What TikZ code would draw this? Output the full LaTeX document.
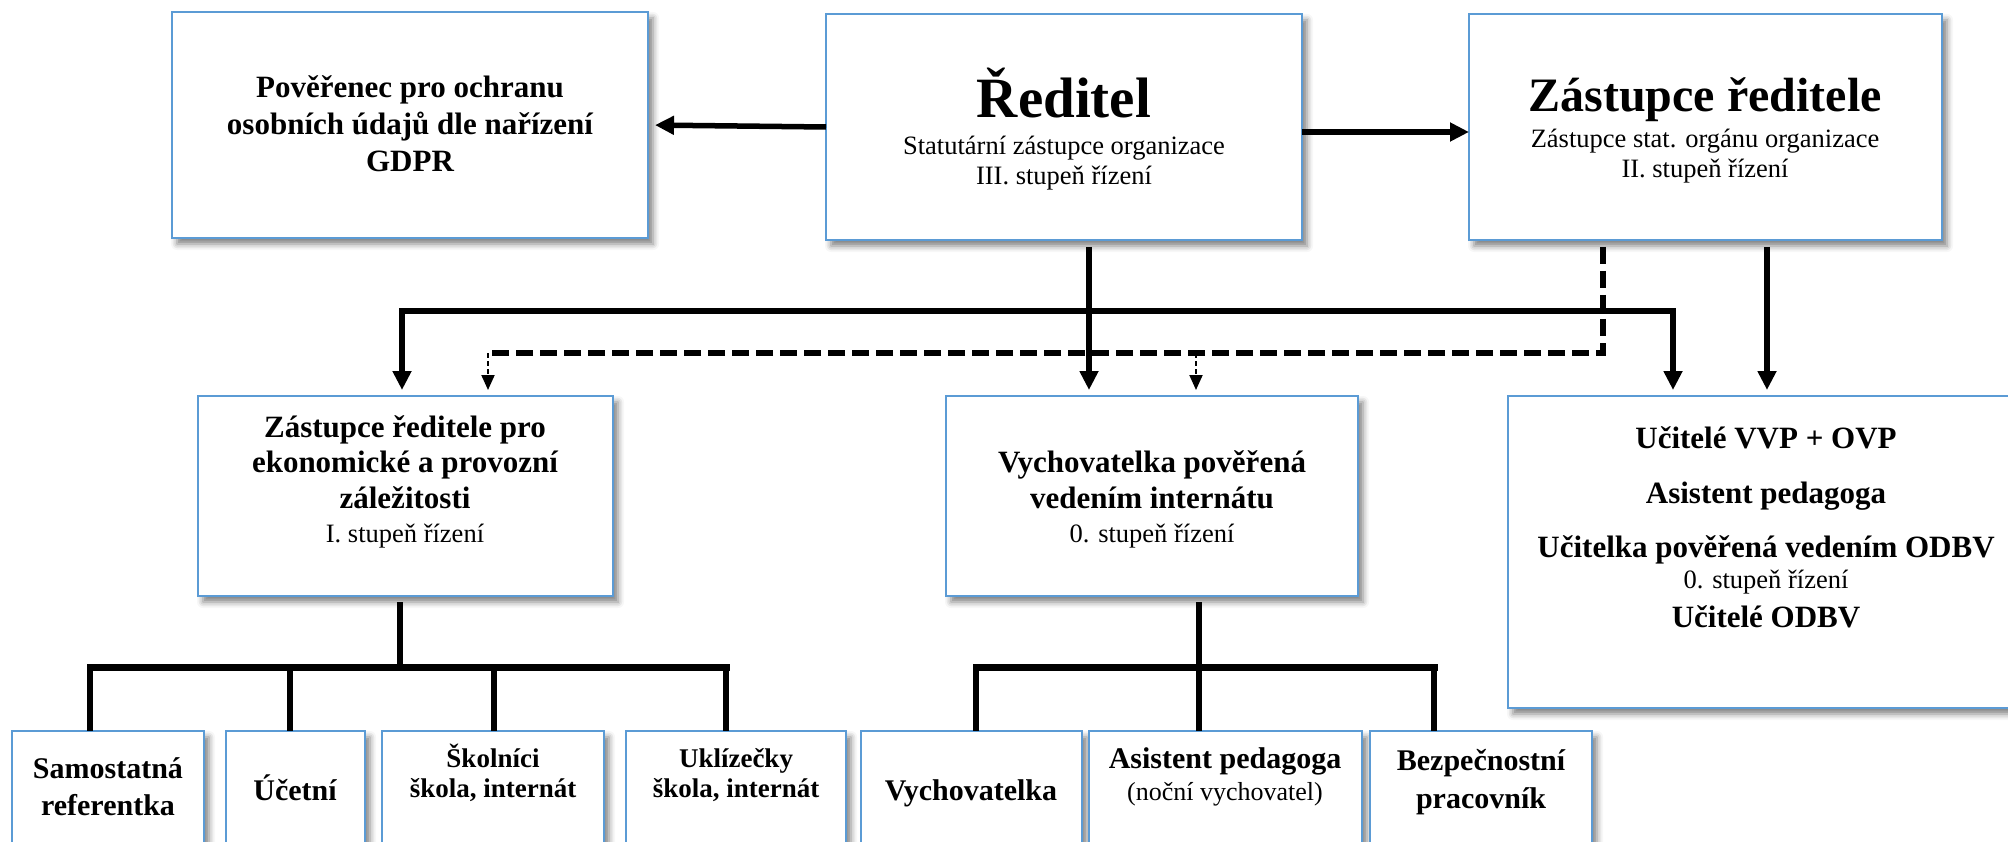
\documentclass[tikz,border=0pt]{standalone}
\usepackage{fontspec}
\setmainfont{Liberation Serif}[
  UprightFont={Liberation Serif},
  BoldFont={Liberation Serif Bold},
  ItalicFont={Liberation Serif Italic},
  BoldItalicFont={Liberation Serif Bold Italic}]
\usetikzlibrary{arrows.meta,shadows.blur}
\definecolor{bxblue}{HTML}{5B9BD5}
\newcommand\fHuge{\bfseries\fontsize{57}{64}\selectfont}
\newcommand\fBig{\bfseries\fontsize{48}{54}\selectfont}
\newcommand\fB{\bfseries\fontsize{31}{37}\selectfont}
\newcommand\fBb{\bfseries\fontsize{30}{36}\selectfont}
\newcommand\fBs{\bfseries\fontsize{27}{32}\selectfont}
\newcommand\fR{\fontsize{26.5}{31}\selectfont}
\newcommand\fRs{\fontsize{26}{31}\selectfont}
\tikzset{
  box/.style={draw=bxblue, line width=2.8pt, fill=white, inner sep=0pt, outer sep=0pt,
    anchor=north west,
    blur shadow={shadow xshift=5pt, shadow yshift=-6pt, shadow blur radius=6pt, shadow opacity=50}},
  tx/.style={anchor=base, inner sep=0pt},
  arr/.style={line width=5.5pt, -{Triangle[length=19pt,width=18pt]}},
  dsh/.style={line width=5.5pt, dash pattern=on 17pt off 7pt},
  thinarr/.style={line width=2pt, dash pattern=on 5pt off 3pt, -{Triangle[length=15pt,width=13pt]}},
  bus/.style={line width=7pt, line cap=rect},
  drop/.style={line width=5.5pt},
}
\begin{document}
\begin{tikzpicture}[x=1pt,y=-1pt]
\useasboundingbox (0,0) rectangle (2008,842);
% boxes
\node[box, minimum width=476pt, minimum height=226pt] (gdpr) at (172,12) {};
\node[box, minimum width=476pt, minimum height=226pt] (red) at (826,14) {};
\node[box, minimum width=473pt, minimum height=226pt] (zr) at (1469,14) {};
\node[box, minimum width=415pt, minimum height=200pt] (ek) at (198,396) {};
\node[box, minimum width=412pt, minimum height=200pt] (vy) at (946,396) {};
\node[box, minimum width=516pt, minimum height=312pt] (uc) at (1508,396) {};
\node[box, minimum width=192pt, minimum height=130pt] (b1) at (12,731) {};
\node[box, minimum width=139pt, minimum height=130pt] (b2) at (226,731) {};
\node[box, minimum width=222pt, minimum height=130pt] (b3) at (382,731) {};
\node[box, minimum width=220pt, minimum height=130pt] (b4) at (626,731) {};
\node[box, minimum width=221pt, minimum height=130pt] (b5) at (861,731) {};
\node[box, minimum width=273pt, minimum height=130pt] (b6) at (1089,731) {};
\node[box, minimum width=222pt, minimum height=130pt] (b7) at (1370,731) {};
% texts
\node[tx] (g1) at (410,98) {\fB Pověřenec pro ochranu};
\node[tx] (g2) at (410,135) {\fB osobních údajů dle nařízení};
\node[tx] (g3) at (410,172) {\fB GDPR};
\node[tx] (r1) at (1064,118) {\fHuge Ředitel};
\node[tx] (r2) at (1064,155) {\fR Statutární zástupce organizace};
\node[tx] (r3) at (1064,185) {\fR III. stupeň řízení};
\node[tx] (z1) at (1705,112) {\fBig Zástupce ředitele};
\node[tx] (z2) at (1705,148) {\fR Zástupce stat. orgánu organizace};
\node[tx] (z3) at (1705,178) {\fR II. stupeň řízení};
\node[tx] (e1) at (405,437) {\fB Zástupce ředitele pro};
\node[tx] (e2) at (405,472) {\fB ekonomické a provozní};
\node[tx] (e3) at (405,508) {\fB záležitosti};
\node[tx] (e4) at (405,542) {\fR I. stupeň řízení};
\node[tx] (v1) at (1152,472) {\fB Vychovatelka pověřená};
\node[tx] (v2) at (1152,508) {\fB vedením internátu};
\node[tx] (v3) at (1152,542) {\fR 0. stupeň řízení};
\node[tx] (u1) at (1766,448) {\fB Učitelé VVP + OVP};
\node[tx] (u2) at (1766,503) {\fB Asistent pedagoga};
\node[tx] (u3) at (1766,557) {\fB Učitelka pověřená vedením ODBV};
\node[tx] (u4) at (1766,588) {\fR 0. stupeň řízení};
\node[tx] (u5) at (1766,627) {\fB Učitelé ODBV};
\node[tx] (t1a) at (108,778) {\fBb Samostatná};
\node[tx] (t1b) at (108,815) {\fBb referentka};
\node[tx] (t2) at (295,800) {\fBb Účetní};
\node[tx] (t3a) at (493,767) {\fBs Školníci};
\node[tx] (t3b) at (493,797) {\fBs škola, internát};
\node[tx] (t4a) at (736,767) {\fBs Uklízečky};
\node[tx] (t4b) at (736,797) {\fBs škola, internát};
\node[tx] (t5) at (971,800) {\fBb Vychovatelka};
\node[tx] (t6a) at (1225,768) {\fBb Asistent pedagoga};
\node[tx] (t6b) at (1225,800) {\fRs (noční vychovatel)};
\node[tx] (t7a) at (1481,770) {\fBb Bezpečnostní};
\node[tx] (t7b) at (1481,808) {\fBb pracovník};
% helper coordinates
\coordinate (rd) at (1089,0);
\coordinate (zd) at (1767,0);
\coordinate (busL) at (402,311);
\coordinate (busR) at (1673,311);
\coordinate (dx) at (1603,0);
\coordinate (dc) at (1603,353);
\coordinate (dl) at (488,353);
\coordinate (dm) at (1196,353);
\coordinate (eb) at (400,667);
\coordinate (eL) at (90,667);
\coordinate (e2x) at (290,667);
\coordinate (e3x) at (494,667);
\coordinate (eR) at (726,667);
\coordinate (vb) at (1199,667);
\coordinate (vL) at (976,667);
\coordinate (vR) at (1434,667);
% top connectors
\draw[arr, shorten >=7pt] (red.west) -- (gdpr.east);
\draw[arr] ([yshift=-5pt]red.east) -- ([yshift=-5pt]zr.west);
\draw[arr, shorten <=7pt, shorten >=6pt] (red.south -| rd) -- (vy.north -| rd);
\draw[line width=5.5pt, {Triangle[length=19pt,width=18pt]}-{Triangle[length=19pt,width=18pt]}, shorten <=6pt, shorten >=6pt]
  (ek.north -| busL) -- (busL) -- (busR) -- (uc.north -| busR);
\draw[arr, shorten <=7pt, shorten >=6pt] (zr.south -| zd) -- (uc.north -| zd);
\draw[dsh, shorten <=7pt] (zr.south -| dx) -- (dc) -- (dl);
\draw[thinarr, shorten >=6pt] (dl) -- (ek.north -| dl);
\draw[thinarr, shorten >=6pt] (dm) -- (vy.north -| dm);
% lower connectors
\draw[drop, shorten <=6pt] (ek.south -| eb) -- (eb);
\draw[bus] (eL) -- (eR);
\draw[drop] (eL) -- (b1.north -| eL);
\draw[drop] (e2x) -- (b2.north -| e2x);
\draw[drop] (e3x) -- (b3.north -| e3x);
\draw[drop] (eR) -- (b4.north -| eR);
\draw[drop, shorten <=6pt] (vy.south -| vb) -- (vb);
\draw[bus] (vL) -- (vR);
\draw[drop] (vL) -- (b5.north -| vL);
\draw[drop] (vb) -- (b6.north -| vb);
\draw[drop] (vR) -- (b7.north -| vR);
\end{tikzpicture}
\end{document}
